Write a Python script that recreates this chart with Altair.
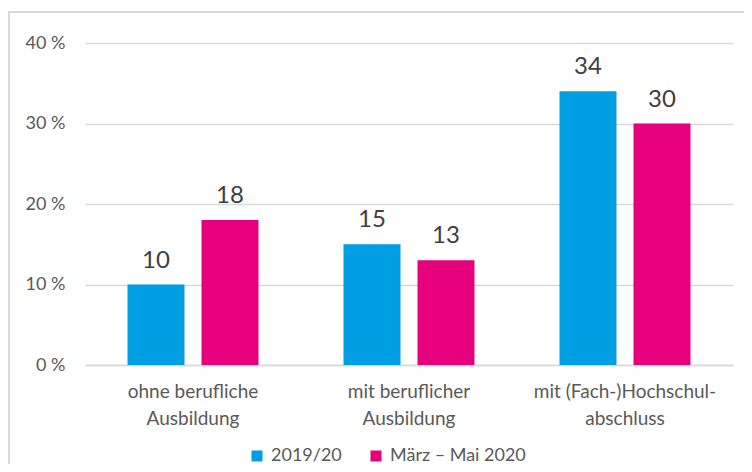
import altair as alt
import pandas as pd

categories = ["ohne berufliche|Ausbildung", "mit beruflicher|Ausbildung", "mit (Fach-)Hochschul-|abschluss"]
series = ["2019/20", "März – Mai 2020"]
values_2019 = [10, 15, 34]
values_2020 = [18, 13, 30]
colors = ["#009FE3", "#E6007E"]

rows = []
for c, a, b in zip(categories, values_2019, values_2020):
    rows.append({"cat": c, "series": series[0], "value": a})
    rows.append({"cat": c, "series": series[1], "value": b})
df = pd.DataFrame(rows)

FONT = "Lato"
TXT = "#595959"

x = alt.X("cat:N", sort=categories, title=None,
          scale=alt.Scale(paddingInner=0.3935, paddingOuter=0.1968),
          axis=alt.Axis(labelAngle=0, labelExpr="split(datum.label, '|')", labelFontSize=19,
                        labelColor=TXT, labelFont=FONT, ticks=False, domainColor="#d9d9d9",
                        domainWidth=1.5, labelPadding=17, labelLineHeight=27, labelBaseline="top",
                        labelLimit=400))
y = alt.Y("value:Q", title=None,
          scale=alt.Scale(domain=[0, 40]),
          axis=alt.Axis(values=[0, 10, 20, 30, 40], labelExpr="datum.value + ' %'", labelFontSize=18,
                        labelColor=TXT, labelFont=FONT, ticks=False, domain=False,
                        gridColor="#d9d9d9", gridWidth=1.5, labelPadding=20))
xo = alt.XOffset("series:N", sort=series,
                 scale=alt.Scale(paddingInner=0.2297, paddingOuter=0))
color = alt.Color("series:N", sort=series,
                  scale=alt.Scale(domain=series, range=colors),
                  legend=alt.Legend(title=None, orient="none", direction="horizontal",
                                    legendX=163, legendY=404, symbolType="square", symbolSize=121,
                                    symbolStrokeWidth=0, labelFontSize=18, labelColor=TXT,
                                    labelFont=FONT, columnPadding=25, labelOffset=5, labelLimit=400))

bars = alt.Chart(df).mark_bar().encode(x=x, y=y, xOffset=xo, color=color)
labels = alt.Chart(df).mark_text(fontSize=24, font=FONT, color="#404040", baseline="alphabetic", dy=-17).encode(
    x=alt.X("cat:N", sort=categories), y="value:Q", xOffset=alt.XOffset("series:N", sort=series),
    text="value:Q")

top_border = alt.Chart(df).mark_rule(color="#d9d9d9", strokeWidth=2).encode(
    x=alt.value(-77), x2=alt.value(700), y=alt.value(-31))
left_border = alt.Chart(df).mark_rule(color="#d9d9d9", strokeWidth=2).encode(
    x=alt.value(-76), y=alt.value(-31), y2=alt.value(450))

chart = alt.layer(top_border, left_border, bars, labels).properties(
    width=648, height=322,
    padding={"left": 77, "top": 35, "right": 11, "bottom": 99},
    autosize=alt.AutoSizeParams(type="none"),
).configure_view(stroke=None)

chart.save("out.html", embed_options={"renderer": "svg", "actions": False})
